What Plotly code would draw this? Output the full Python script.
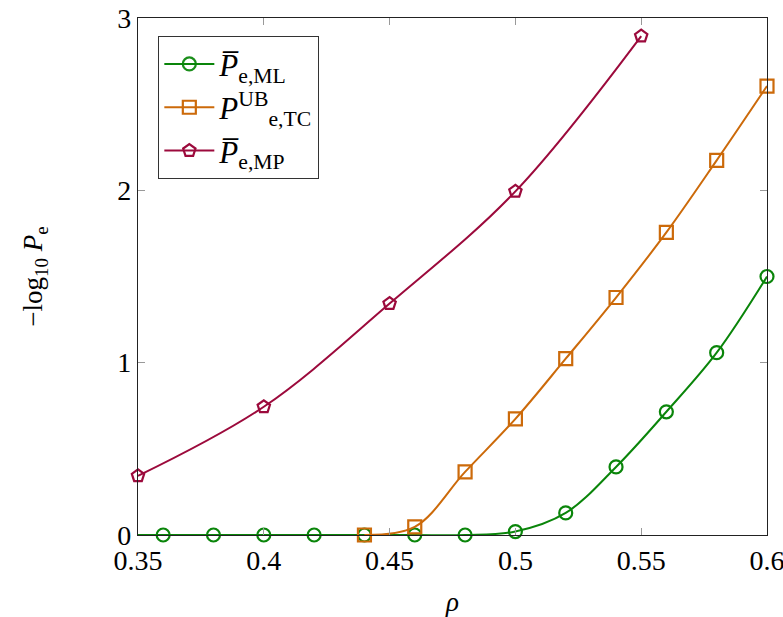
import plotly.graph_objects as go

ml_x = [0.35, 0.36, 0.38, 0.40, 0.42, 0.44, 0.46, 0.48, 0.50, 0.52, 0.54, 0.56, 0.58, 0.60]
ml_y = [0.0, 0.0, 0.0, 0.0, 0.0, 0.0, 0.0, 0.0, 0.02, 0.128, 0.395, 0.715, 1.058, 1.5]

tc_x = [0.44, 0.46, 0.48, 0.50, 0.52, 0.54, 0.56, 0.58, 0.60]
tc_y = [0.0, 0.047, 0.366, 0.674, 1.023, 1.378, 1.756, 2.174, 2.605]

mp_x = [0.35, 0.40, 0.45, 0.50, 0.55]
mp_y = [0.343, 0.744, 1.343, 1.994, 2.895]

x_ticks = [0.35, 0.4, 0.45, 0.5, 0.55, 0.6]
x_ticklabels = ["0.35", "0.4", "0.45", "0.5", "0.55", "0.6"]
y_ticks = [0, 1, 2, 3]

GREEN = "#0a850a"
ORANGE = "#cc6a0a"
PURPLE = "#9c0a3c"
FONT = "Liberation Serif"

fig = go.Figure()
fig.add_trace(go.Scatter(
    x=ml_x, y=ml_y, mode="lines+markers", line_shape="spline",
    name="<i>P̅</i><sub>e,ML</sub>",
    line=dict(color=GREEN, width=2),
    marker=dict(symbol="circle-open", size=13, color=GREEN,
                opacity=[0] + [1] * (len(ml_x) - 1),
                line=dict(width=2.2, color=GREEN)),
    cliponaxis=False,
))
fig.add_trace(go.Scatter(
    x=tc_x, y=tc_y, mode="lines+markers", line_shape="spline",
    name="<i>P</i><sup>UB</sup><sub>e,TC</sub>",
    line=dict(color=ORANGE, width=2),
    marker=dict(symbol="square-open", size=13, color=ORANGE, line=dict(width=2.2, color=ORANGE)),
    cliponaxis=False,
))
fig.add_trace(go.Scatter(
    x=mp_x, y=mp_y, mode="lines+markers", line_shape="spline",
    name="<i>P̅</i><sub>e,MP</sub>",
    line=dict(color=PURPLE, width=2),
    marker=dict(symbol="pentagon-open", size=13, color=PURPLE, line=dict(width=2.2, color=PURPLE)),
    cliponaxis=False,
))

fig.update_layout(
    width=783, height=617,
    margin=dict(l=138, r=16, t=18, b=82, autoexpand=False),
    plot_bgcolor="white", paper_bgcolor="white",
    font=dict(family=FONT, size=27, color="black"),
    showlegend=True,
    legend=dict(
        x=0.032, y=0.965, xanchor="left", yanchor="top",
        bgcolor="white", bordercolor="#333", borderwidth=1.2,
        font=dict(family=FONT, size=31, color="black"),
        tracegroupgap=0, itemwidth=50,
    ),
    xaxis=dict(
        range=[0.35, 0.6], tickvals=x_ticks, ticktext=x_ticklabels,
        ticks="inside", ticklen=7, tickcolor="#999", tickwidth=1,
        showline=True, linecolor="#222", linewidth=1.2, mirror="ticks",
        showgrid=False, zeroline=False, automargin=False,
        ticklabeloverflow="allow",
        title=dict(text="<i>ρ</i>", font=dict(family=FONT, size=27), standoff=20),
        tickfont=dict(family=FONT, size=28, color="black"),
    ),
    yaxis=dict(
        range=[0, 3], tickvals=y_ticks,
        ticks="inside", ticklen=7, tickcolor="#999", tickwidth=1,
        showline=True, linecolor="#222", linewidth=1.2, mirror="ticks",
        showgrid=False, zeroline=False, automargin=False,
        ticklabeloverflow="allow",
        title=dict(text="−log<sub>10</sub> <i>P</i><sub>e</sub>", font=dict(family=FONT, size=27), standoff=66),
        tickfont=dict(family=FONT, size=28, color="black"),
    ),
)

fig.write_html("out.html")
